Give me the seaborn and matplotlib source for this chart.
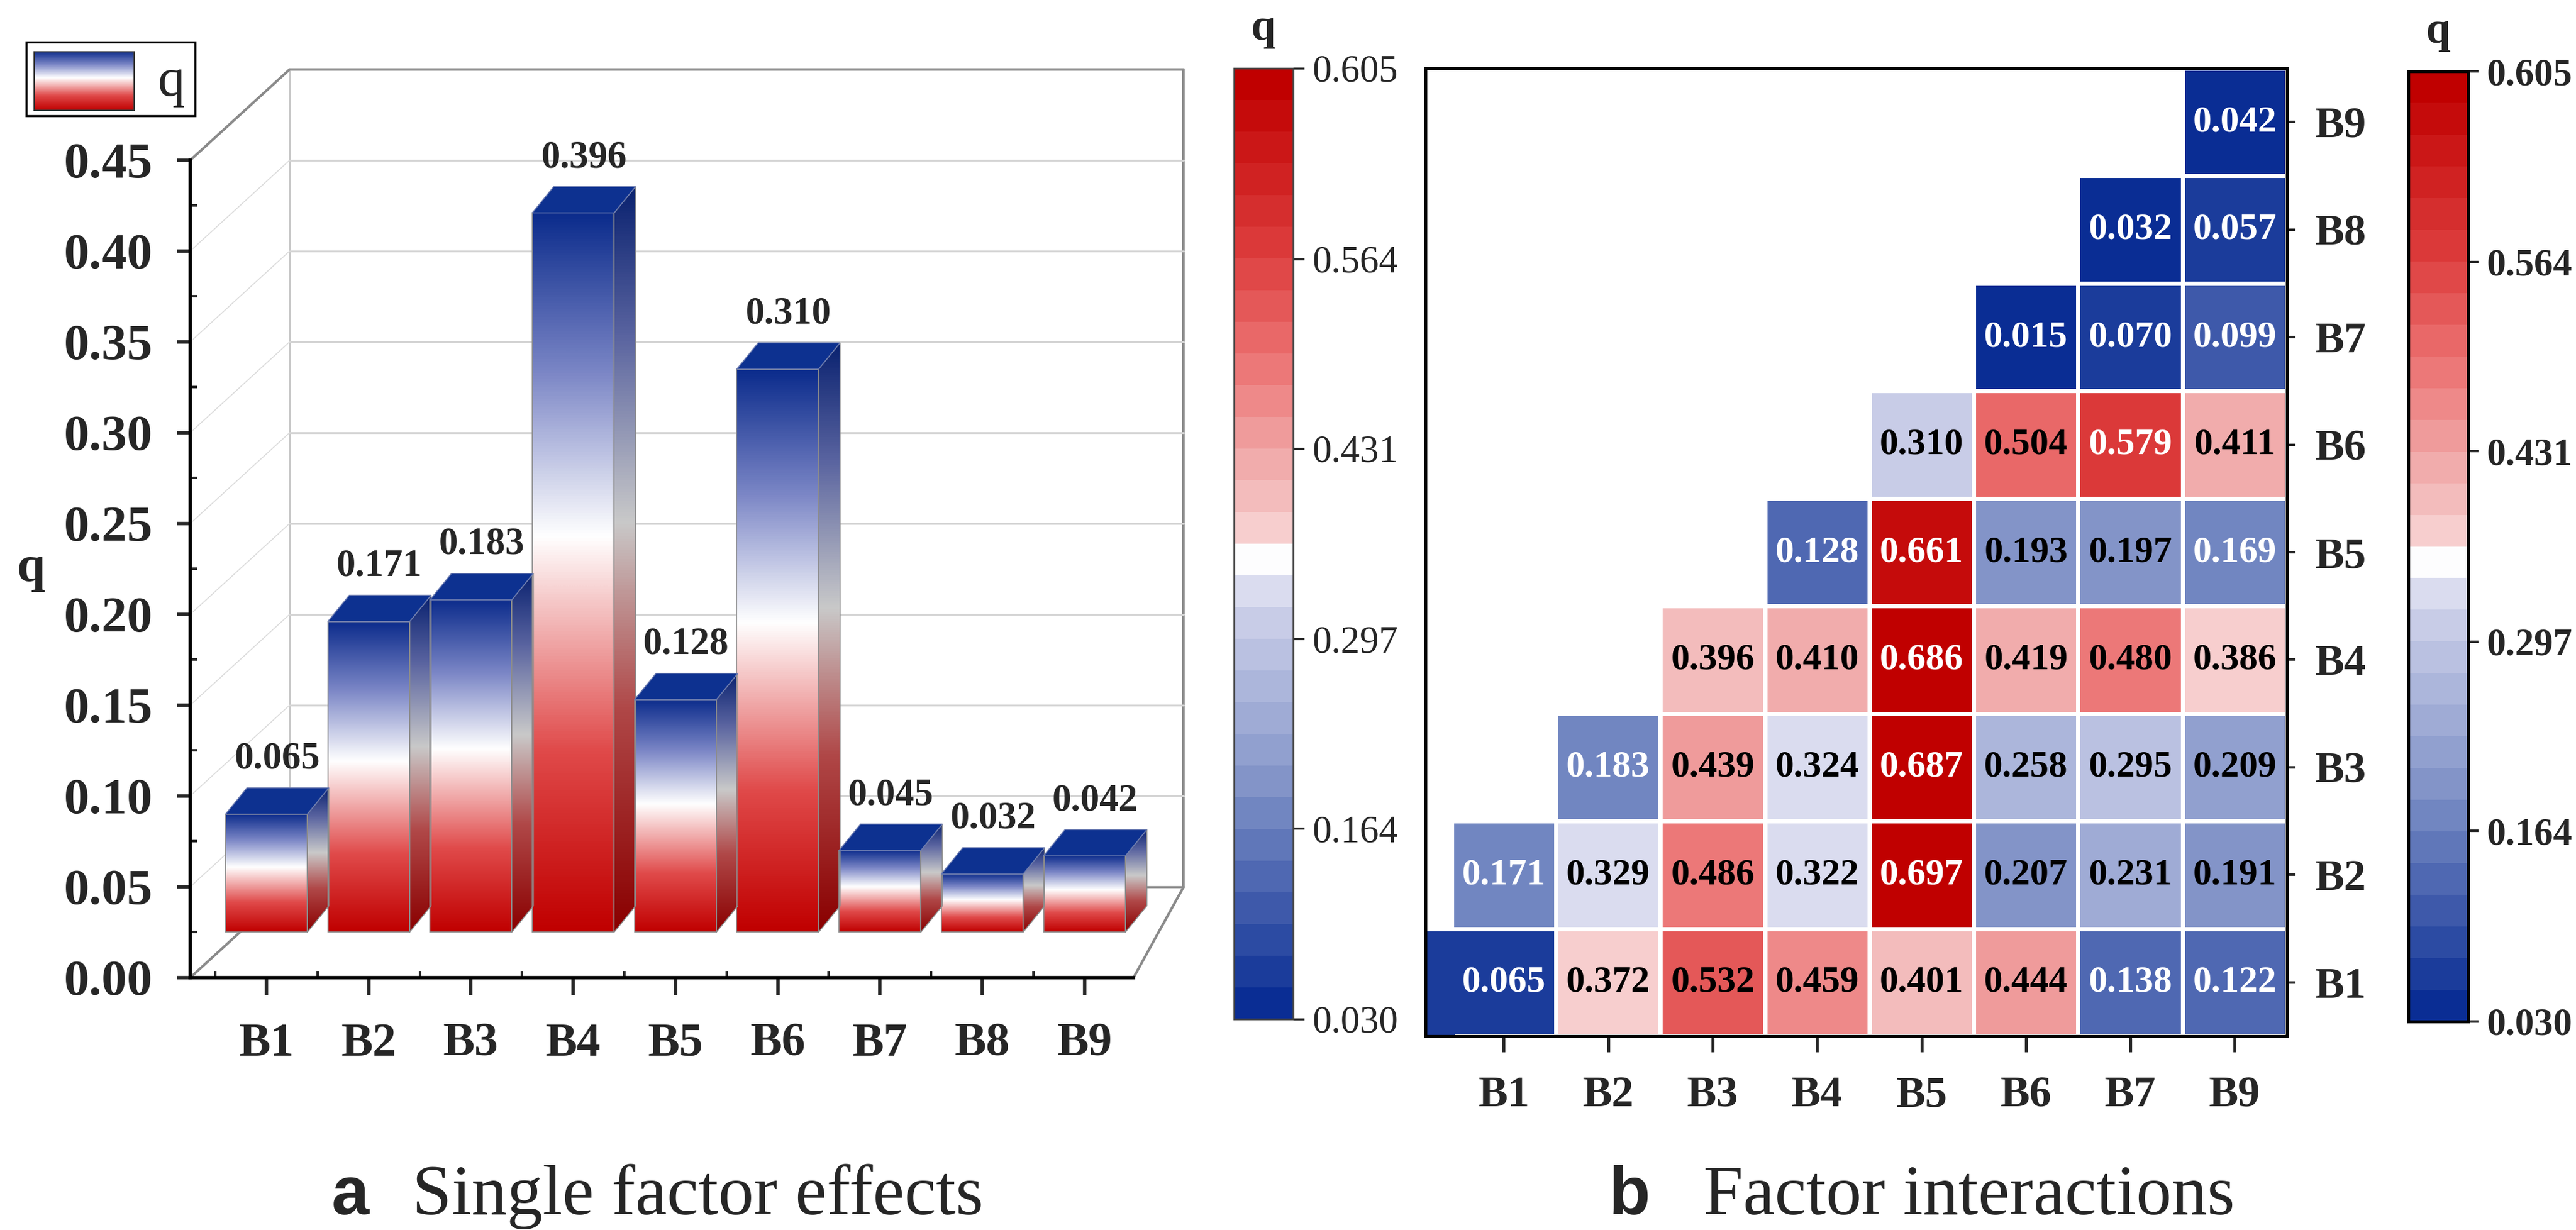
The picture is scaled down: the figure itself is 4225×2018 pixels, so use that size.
import numpy as np
import pandas as pd
import seaborn as sns
import matplotlib.pyplot as plt
from matplotlib.colors import LinearSegmentedColormap, Normalize
from matplotlib.patches import Polygon, Rectangle
from matplotlib.cm import ScalarMappable

# data: single factor q values
factors = ['B1', 'B2', 'B3', 'B4', 'B5', 'B6', 'B7', 'B8', 'B9']
q_single = [0.065, 0.171, 0.183, 0.396, 0.128, 0.310, 0.045, 0.032, 0.042]

# data: interaction q values (rows top->bottom, columns as labelled in the figure)
rows = ['B9', 'B8', 'B7', 'B6', 'B5', 'B4', 'B3', 'B2', 'B1']
cols = ['B1', 'B2', 'B3', 'B4', 'B5', 'B6', 'B7', 'B9']
nan = np.nan
q_B9 = [nan, nan, nan, nan, nan, nan, nan, 0.042]
q_B8 = [nan, nan, nan, nan, nan, nan, 0.032, 0.057]
q_B7 = [nan, nan, nan, nan, nan, 0.015, 0.070, 0.099]
q_B6 = [nan, nan, nan, nan, 0.310, 0.504, 0.579, 0.411]
q_B5 = [nan, nan, nan, 0.128, 0.661, 0.193, 0.197, 0.169]
q_B4 = [nan, nan, 0.396, 0.410, 0.686, 0.419, 0.480, 0.386]
q_B3 = [nan, 0.183, 0.439, 0.324, 0.687, 0.258, 0.295, 0.209]
q_B2 = [0.171, 0.329, 0.486, 0.322, 0.697, 0.207, 0.231, 0.191]
q_B1 = [0.065, 0.372, 0.532, 0.459, 0.401, 0.444, 0.138, 0.122]

cbar_ticks = [0.030, 0.164, 0.297, 0.431, 0.564, 0.698]
cbar_labels = ['0.030', '0.164', '0.297', '0.431', '0.564', '0.605']

inter = pd.DataFrame([q_B9, q_B8, q_B7, q_B6, q_B5, q_B4, q_B3, q_B2, q_B1],
                     index=rows, columns=cols)
single = pd.DataFrame({'factor': factors, 'q': q_single})

sns.set_theme(style='white')
plt.rcParams['font.family'] = ['Liberation Serif', 'DejaVu Serif']
plt.rcParams['font.weight'] = 'bold'
plt.rcParams['axes.unicode_minus'] = False

# colormaps
heat_cmap = LinearSegmentedColormap.from_list(
    'bwr_q', [(0, '#0a2d94'), (0.25, '#8798ca'), (0.44, '#d2d4ec'), (0.485, '#ffffff'),
              (0.52, '#f6caca'), (0.57, '#f2b4b4'), (0.71, '#eb6e6e'),
              (0.82, '#dc3c3c'), (1, '#c00000')]).resampled(30)
bar_cmap = LinearSegmentedColormap.from_list(
    'bar_q', [(0, '#c00000'), (0.25, '#e04a4a'), (0.55, '#ffffff'),
              (0.78, '#7b86c6'), (1, '#0c2c8c')])
side_cmap = LinearSegmentedColormap.from_list(
    'side_q', [(0, '#8a0000'), (0.3, '#b04848'), (0.55, '#c9c9c9'),
               (0.8, '#5a64a0'), (1, '#0a2270')])
norm = Normalize(vmin=cbar_ticks[0], vmax=cbar_ticks[-1])
grad = np.linspace(0, 1, 256).reshape(-1, 1)

fig = plt.figure(figsize=(42.25, 20.18), dpi=100)

# ---------------- panel a: pseudo 3D bars ----------------
ax1 = fig.add_axes([0.07385, 0.2052, 0.3908, 0.7679])
sns.barplot(data=single, x='factor', y='q', ax=ax1, width=0.8, color='white')

base = 0.025            # bars stand on the raised floor
ddx, ddy = 0.21, 0.0145  # bar depth
fx0, fx1 = -0.745, 8.48  # floor front
bx0, bx1 = 0.227, 8.97   # back wall
wdy = 0.050              # frame depth

gcol = '#8a8a8a'
# back wall, floor and grid
ax1.plot([bx0, bx1], [0.45 + wdy] * 2, color=gcol, lw=3, zorder=1)
ax1.plot([bx1, bx1], [wdy, 0.45 + wdy], color=gcol, lw=3, zorder=1)
ax1.plot([bx0, bx0], [wdy, 0.45 + wdy], color='#c8c8c8', lw=2, zorder=1)
ax1.plot([fx0, bx0], [0.45, 0.45 + wdy], color=gcol, lw=3, zorder=1)
ax1.plot([fx0, bx0], [0, wdy], color=gcol, lw=3, zorder=1)
ax1.plot([fx1, bx1], [0, wdy], color=gcol, lw=3, zorder=1)
ax1.plot([bx0, bx1], [wdy, wdy], color=gcol, lw=2.5, zorder=1)
for v in np.arange(0.05, 0.45, 0.05):
    ax1.plot([bx0, bx1], [v + wdy] * 2, color='#d4d4d4', lw=2.2, zorder=1)
    ax1.plot([fx0, bx0], [v, v + wdy], color='#dcdcdc', lw=1.2, zorder=1)

for p, v in zip(ax1.patches, q_single):
    x0 = p.get_x()
    w = p.get_width()
    x1 = x0 + w
    y0 = base
    y1 = base + p.get_height()
    p.set_y(base)
    p.set_facecolor('none')
    p.set_edgecolor('#8c8c8c')
    p.set_linewidth(1.2)
    p.set_zorder(4)
    ax1.imshow(grad, extent=(x0, x1, y0, y1), origin='lower', cmap=bar_cmap,
               aspect='auto', interpolation='bicubic', zorder=3)
    side = Polygon([(x1, y0), (x1 + ddx, y0 + ddy), (x1 + ddx, y1 + ddy), (x1, y1)],
                   closed=True, facecolor='none', edgecolor='#8c8c8c', lw=1.2, zorder=4)
    ax1.add_patch(side)
    im = ax1.imshow(grad, extent=(x1, x1 + ddx, y0, y1 + ddy), origin='lower',
                    cmap=side_cmap, aspect='auto', interpolation='bicubic', zorder=3)
    im.set_clip_path(side)
    top = Polygon([(x0, y1), (x1, y1), (x1 + ddx, y1 + ddy), (x0 + ddx, y1 + ddy)],
                  closed=True, facecolor='#0d3190', edgecolor='#6a7ab0', lw=1.2, zorder=4)
    ax1.add_patch(top)
    ax1.text(x0 + w / 2 + ddx / 2, y1 + ddy + 0.006, f'{v:.3f}', ha='center',
             va='bottom', fontsize=45, fontweight='bold', zorder=5)

ax1.set_xlim(fx0, 9.1)
ax1.set_ylim(0, 0.52)
ax1.set_yticks(np.arange(0, 0.451, 0.05))
ax1.set_yticklabels([f'{t:.2f}' for t in np.arange(0, 0.451, 0.05)])
ax1.set_yticks(np.arange(0.025, 0.45, 0.05), minor=True)
ax1.set_xticks(np.arange(-0.5, 8.0, 1), minor=True)
ax1.set_xlabel('')
ax1.set_ylabel('q', rotation=0, fontsize=60, fontweight='bold', va='center')
ax1.yaxis.set_label_coords(-0.158, 0.45 / 0.52 / 2)
for s in ['top', 'right']:
    ax1.spines[s].set_visible(False)
ax1.spines['left'].set_bounds(0, 0.45)
ax1.spines['bottom'].set_bounds(fx0, fx1)
for s in ['left', 'bottom']:
    ax1.spines[s].set_linewidth(4)
    ax1.spines[s].set_color('black')
ax1.tick_params(axis='y', which='major', direction='out', length=16, width=4,
                labelsize=60, pad=28, left=True)
ax1.tick_params(axis='x', which='major', direction='out', length=21, width=4,
                labelsize=56, pad=32, bottom=True)
ax1.tick_params(axis='both', which='minor', direction='in', length=8, width=3,
                left=True, bottom=True)
ax1.set_facecolor('none')

# legend box with the gradient patch
fig.patches.append(Rectangle((0.0102, 0.9058), 0.0656, 0.06, transform=fig.transFigure,
                             fill=False, edgecolor='black', lw=2.5))
lax = fig.add_axes([0.01325, 0.9103, 0.0388, 0.0476])
lax.imshow(grad, origin='lower', cmap=bar_cmap, aspect='auto', interpolation='bicubic')
lax.set_xticks([])
lax.set_yticks([])
for s in lax.spines.values():
    s.set_linewidth(1.5)
    s.set_color('#333333')
fig.text(281 / 4225, 1 - 135 / 2018, 'q', fontsize=64, fontweight='normal',
         ha='center', va='center')

# colorbar of panel a
cax1 = fig.add_axes([2024 / 4225, 1 - 1672 / 2018, 97 / 4225, 1560 / 2018])
cb1 = fig.colorbar(ScalarMappable(norm=norm, cmap=heat_cmap), cax=cax1)
cb1.set_ticks(cbar_ticks)
cb1.set_ticklabels(cbar_labels)
cb1.outline.set_linewidth(2)
cb1.outline.set_edgecolor('#444444')
cax1.tick_params(labelsize=45, length=13, width=2.5, pad=10)
for lab in cax1.get_yticklabels():
    lab.set_fontweight('normal')
cax1.set_title('q', fontsize=52, fontweight='bold', pad=34)

# ---------------- panel b: interaction heatmap ----------------
ax2 = fig.add_axes([0.55337, 0.15758, 0.33444, 0.78692])
cax2 = fig.add_axes([3950 / 4225, 1 - 1676 / 2018, 98 / 4225, 1559 / 2018])
sns.heatmap(inter, ax=ax2, cmap=heat_cmap, vmin=cbar_ticks[0], vmax=cbar_ticks[-1],
            annot=True, fmt='.3f', linewidths=5, linecolor='white',
            annot_kws={'fontsize': 44, 'fontweight': 'bold'},
            cbar_ax=cax2)
for t in ax2.texts:
    v = float(t.get_text())
    t.set_color('white' if (v < 0.186 or v > 0.55) else 'black')

# the B1 row cell reaches the left frame
ax2.add_patch(Rectangle((-0.25, 8.025), 0.28, 0.975,
                        facecolor=heat_cmap(norm(q_B1[0])), edgecolor='none', zorder=2))
ax2.set_xlim(-0.25, 8)
ax2.set_ylim(9, 0)
ax2.set_xlabel('')
ax2.set_ylabel('')
ax2.yaxis.tick_right()
ax2.set_yticklabels(rows, rotation=0)
ax2.set_xticklabels(cols, rotation=0)
for s in ax2.spines.values():
    s.set_visible(True)
    s.set_linewidth(3.5)
    s.set_color('black')
ax2.tick_params(axis='x', direction='out', length=19, width=3.5, labelsize=52,
                pad=28, bottom=True)
ax2.tick_params(axis='y', direction='out', length=9, width=3, labelsize=52,
                pad=24, right=True, left=False)

cb2 = ax2.collections[0].colorbar
cb2.set_ticks(cbar_ticks)
cb2.set_ticklabels(cbar_labels)
cb2.outline.set_visible(True)
cb2.outline.set_linewidth(3.5)
cb2.outline.set_edgecolor('black')
cax2.tick_params(labelsize=45, length=12, width=3, pad=10, right=True)
cax2.set_title('q', fontsize=52, fontweight='bold', pad=34)

# panel titles
fig.text(544 / 4225, 0.013, 'a', fontsize=80, fontweight='bold',
         family=['Liberation Sans', 'DejaVu Sans'], va='baseline')
fig.text(676 / 4225, 0.013, 'Single factor effects', fontsize=84,
         fontweight='normal', va='baseline')
fig.text(2639 / 4225, 0.013, 'b', fontsize=80, fontweight='bold',
         family=['Liberation Sans', 'DejaVu Sans'], va='baseline')
fig.text(2794 / 4225, 0.013, 'Factor interactions', fontsize=84,
         fontweight='normal', va='baseline')

fig.savefig('out.png', dpi=100, facecolor='white')
